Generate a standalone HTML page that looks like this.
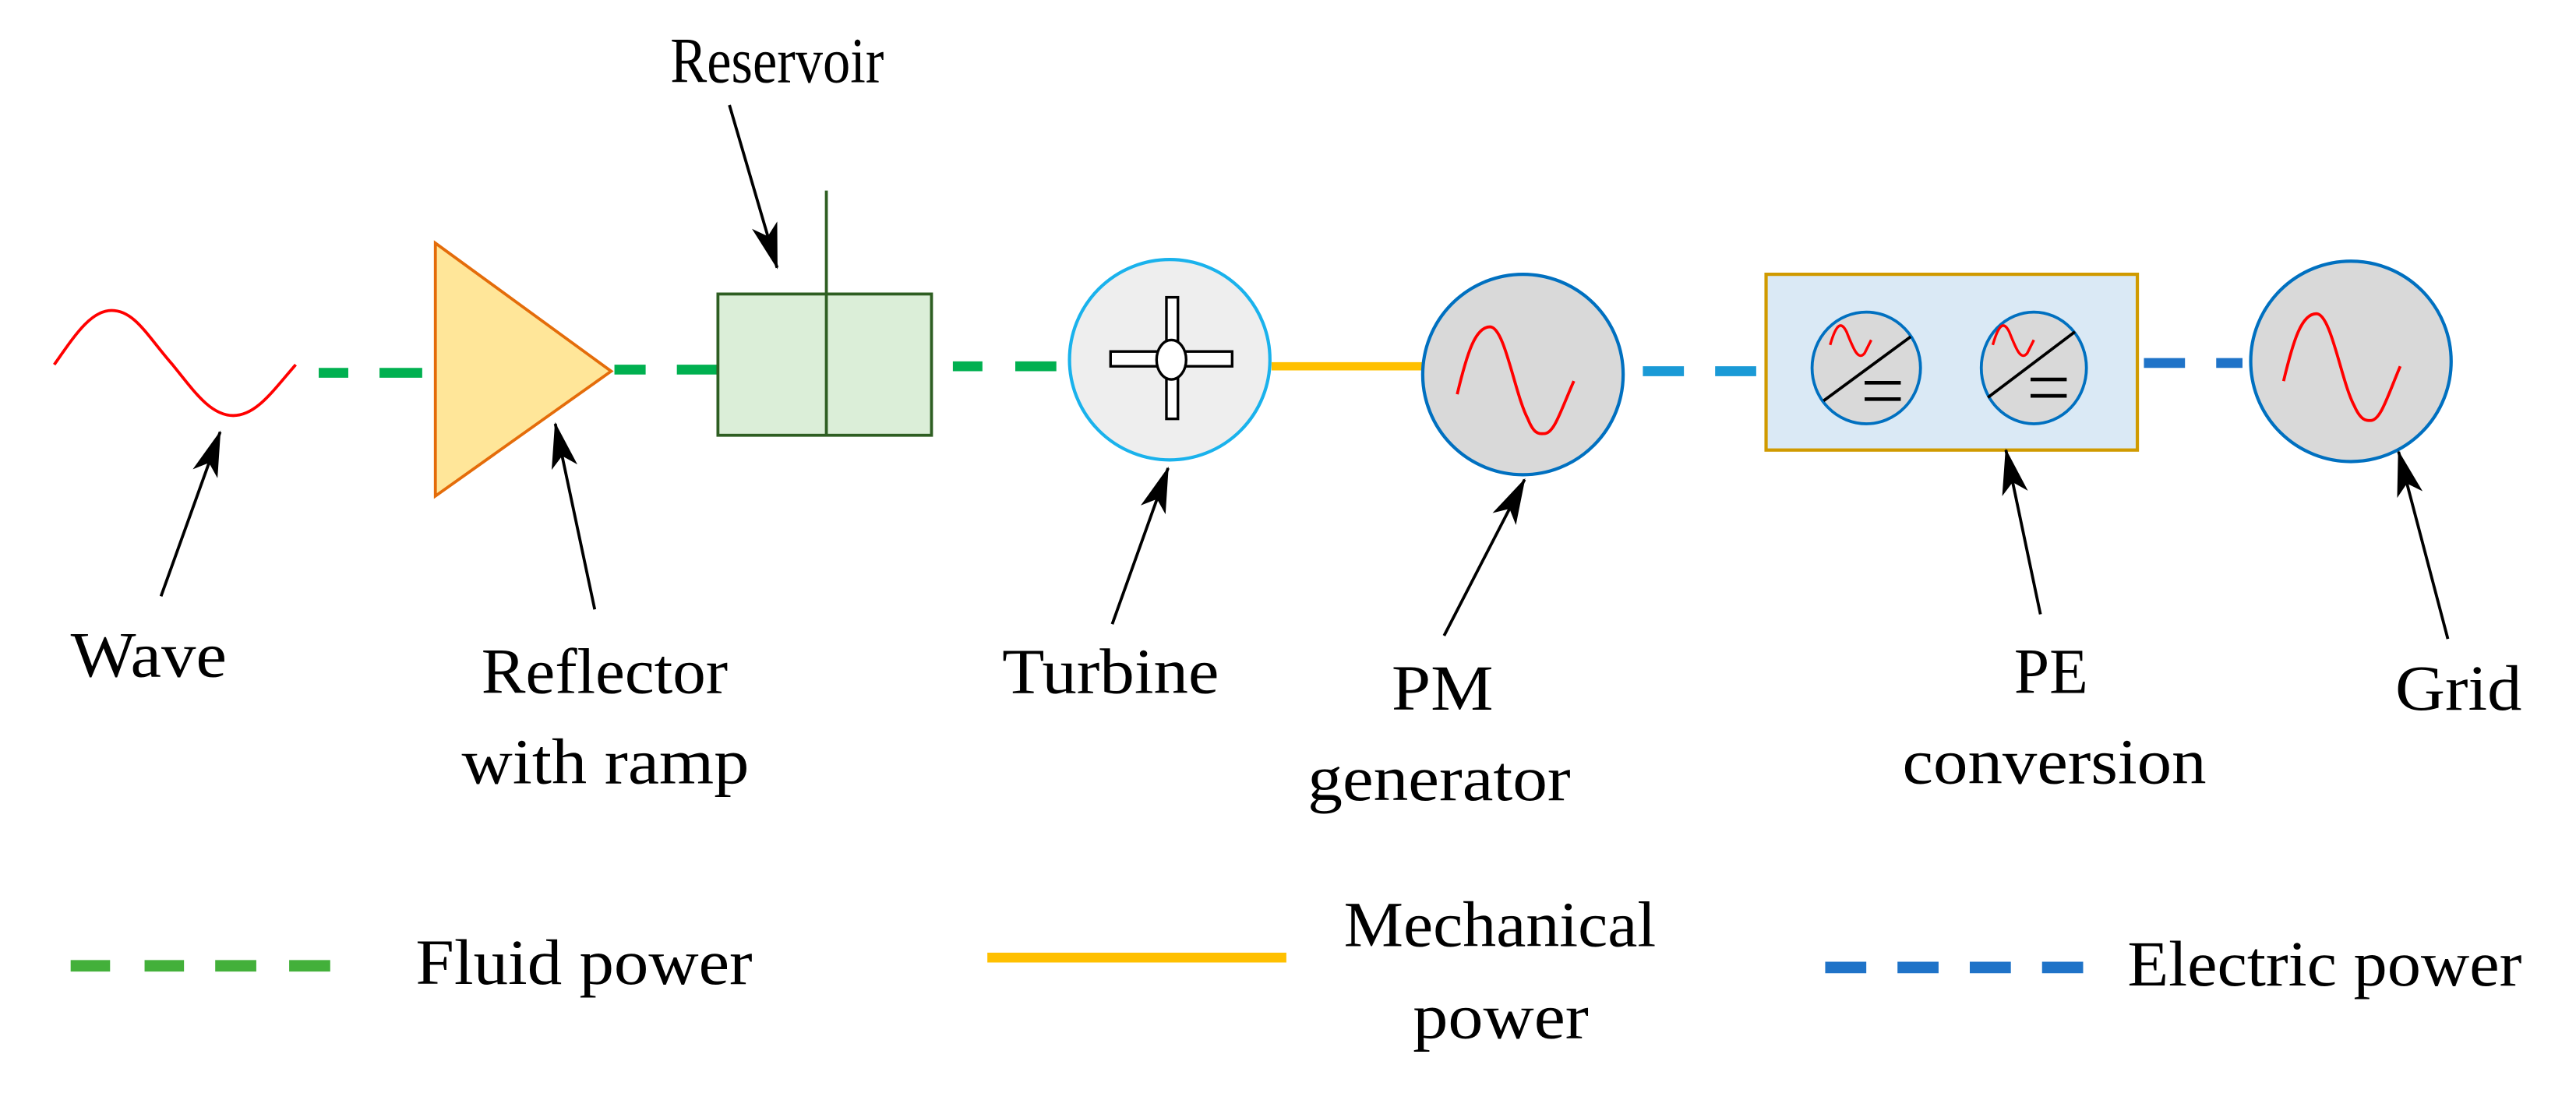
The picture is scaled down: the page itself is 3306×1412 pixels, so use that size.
<!DOCTYPE html>
<html><head><meta charset="utf-8"><style>
html,body{margin:0;padding:0;background:#fff;}
svg{display:block;}
text{font-family:"Liberation Serif",serif;font-size:39px;fill:#000;}
</style></head><body>
<svg width="3306" height="1412" viewBox="0 0 1568 669.7" xmlns="http://www.w3.org/2000/svg">
<defs>
<marker id="ah" viewBox="0 0 28 16" refX="27" refY="8" markerWidth="28" markerHeight="16" markerUnits="userSpaceOnUse" orient="auto">
<path d="M0,0 L28,8 L0,16 L7,8 Z" fill="#000"/>
</marker>
</defs>
<rect width="1568" height="670" fill="#fff"/>
<path d="M33,222 C45,205 55,189 68,189 C82,189 90,205 105,222 C118,238 128,253 142,253 C156,253 166,238 180,222" fill="none" stroke="#ff0000" stroke-width="1.8"/>
<g stroke="#00b050" stroke-width="6" stroke-linecap="butt">
<line x1="194" y1="227" x2="212" y2="227"/><line x1="231" y1="227" x2="257" y2="227"/>
<line x1="374" y1="225" x2="393" y2="225"/><line x1="412" y1="225" x2="438" y2="225"/>
<line x1="580" y1="223" x2="598" y2="223"/><line x1="618" y1="223" x2="643" y2="223"/>
</g>
<polygon points="265,148 372,226 265,302" fill="#ffe699" stroke="#e46c0a" stroke-width="1.8"/>
<rect x="437" y="179" width="130" height="86" fill="#dbeed8" stroke="#2e5e22" stroke-width="1.8"/>
<line x1="503" y1="116" x2="503" y2="265" stroke="#2e5e22" stroke-width="1.8"/>
<circle cx="712" cy="219" r="61" fill="#eeeeee" stroke="#1ab2ec" stroke-width="2"/>
<rect x="676" y="214" width="74" height="9" fill="#fff" stroke="#000" stroke-width="1.6"/>
<rect x="710" y="181" width="7" height="74" fill="#fff" stroke="#000" stroke-width="1.6"/>
<ellipse cx="713" cy="219" rx="9" ry="12" fill="#fff" stroke="#000" stroke-width="1.6"/>
<line x1="774" y1="223" x2="867" y2="223" stroke="#ffc000" stroke-width="5"/>
<circle cx="927" cy="228" r="61" fill="#d9d9d9" stroke="#0070c0" stroke-width="2"/>
<path d="M887,240 C893,215 898,199 907,199 C916,199 922,240 930,255 C934,265 937,264 940,264 C946,264 950,250 958,232" fill="none" stroke="#ff0000" stroke-width="1.8"/>
<g stroke="#1a9ad6" stroke-width="6"><line x1="1000" y1="226" x2="1025" y2="226"/><line x1="1044" y1="226" x2="1069" y2="226"/></g>
<rect x="1075" y="167" width="226" height="107" fill="#dae9f5" stroke="#d09a00" stroke-width="2"/>
<g>
<ellipse cx="1136" cy="224" rx="33" ry="34" fill="#d9d9d9" stroke="#0070c0" stroke-width="1.8"/>
<path d="M1114,210 C1118,196 1121,196 1124,202 C1128,212 1131,220 1135,215 L1139,207" fill="none" stroke="#ff0000" stroke-width="1.6"/>
<line x1="1110" y1="244" x2="1163" y2="205" stroke="#000" stroke-width="1.8"/>
<line x1="1135" y1="233" x2="1157" y2="233" stroke="#000" stroke-width="2.2"/>
<line x1="1135" y1="243" x2="1157" y2="243" stroke="#000" stroke-width="2.2"/>
<ellipse cx="1238" cy="224" rx="32" ry="34" fill="#d9d9d9" stroke="#0070c0" stroke-width="1.8"/>
<path d="M1213,210 C1217,196 1220,196 1223,202 C1227,212 1230,220 1234,215 L1238,207" fill="none" stroke="#ff0000" stroke-width="1.6"/>
<line x1="1210" y1="242" x2="1263" y2="202" stroke="#000" stroke-width="1.8"/>
<line x1="1236" y1="231" x2="1258" y2="231" stroke="#000" stroke-width="2.2"/>
<line x1="1236" y1="241" x2="1258" y2="241" stroke="#000" stroke-width="2.2"/>
</g>
<g stroke="#1f73c8" stroke-width="6"><line x1="1305" y1="221" x2="1330" y2="221"/><line x1="1349" y1="221" x2="1365" y2="221"/></g>
<circle cx="1431" cy="220" r="61" fill="#d9d9d9" stroke="#0070c0" stroke-width="2"/>
<path d="M1390,232 C1396,207 1401,191 1410,191 C1419,191 1425,232 1433,247 C1437,256 1440,256 1443,256 C1449,256 1453,242 1461,223" fill="none" stroke="#ff0000" stroke-width="1.8"/>
<g stroke="#000" stroke-width="1.8" marker-end="url(#ah)">
<line x1="98" y1="363" x2="134" y2="263"/>
<line x1="362" y1="371" x2="338" y2="258"/>
<line x1="444" y1="64" x2="473" y2="163"/>
<line x1="677" y1="380" x2="711" y2="285"/>
<line x1="879" y1="387" x2="928" y2="292"/>
<line x1="1242" y1="374" x2="1221" y2="274"/>
<line x1="1490" y1="389" x2="1460" y2="275"/>
</g>
<text x="43" y="412" textLength="95" lengthAdjust="spacingAndGlyphs">Wave</text>
<text x="408" y="50" textLength="130" lengthAdjust="spacingAndGlyphs">Reservoir</text>
<text x="293" y="422" textLength="150" lengthAdjust="spacingAndGlyphs">Reflector</text>
<text x="281" y="477" textLength="175" lengthAdjust="spacingAndGlyphs">with ramp</text>
<text x="610" y="422" textLength="132" lengthAdjust="spacingAndGlyphs">Turbine</text>
<text x="847" y="432" textLength="62" lengthAdjust="spacingAndGlyphs">PM</text>
<text x="796" y="487" textLength="160" lengthAdjust="spacingAndGlyphs">generator</text>
<text x="1226" y="422" textLength="45" lengthAdjust="spacingAndGlyphs">PE</text>
<text x="1158" y="477" textLength="185" lengthAdjust="spacingAndGlyphs">conversion</text>
<text x="1458" y="432" textLength="77" lengthAdjust="spacingAndGlyphs">Grid</text>
<g stroke="#43b03a" stroke-width="7">
<line x1="43" y1="588" x2="67" y2="588"/><line x1="88" y1="588" x2="112" y2="588"/><line x1="131" y1="588" x2="156" y2="588"/><line x1="176" y1="588" x2="201" y2="588"/>
</g>
<text x="253" y="599" textLength="205" lengthAdjust="spacingAndGlyphs">Fluid power</text>
<line x1="601" y1="583" x2="783" y2="583" stroke="#ffc000" stroke-width="6"/>
<text x="818" y="576" textLength="190" lengthAdjust="spacingAndGlyphs">Mechanical</text>
<text x="860" y="632" textLength="107" lengthAdjust="spacingAndGlyphs">power</text>
<g stroke="#1f73c8" stroke-width="7">
<line x1="1111" y1="589" x2="1136" y2="589"/><line x1="1155" y1="589" x2="1180" y2="589"/><line x1="1199" y1="589" x2="1224" y2="589"/><line x1="1243" y1="589" x2="1268" y2="589"/>
</g>
<text x="1295" y="600" textLength="240" lengthAdjust="spacingAndGlyphs">Electric power</text>
</svg>
</body></html>
